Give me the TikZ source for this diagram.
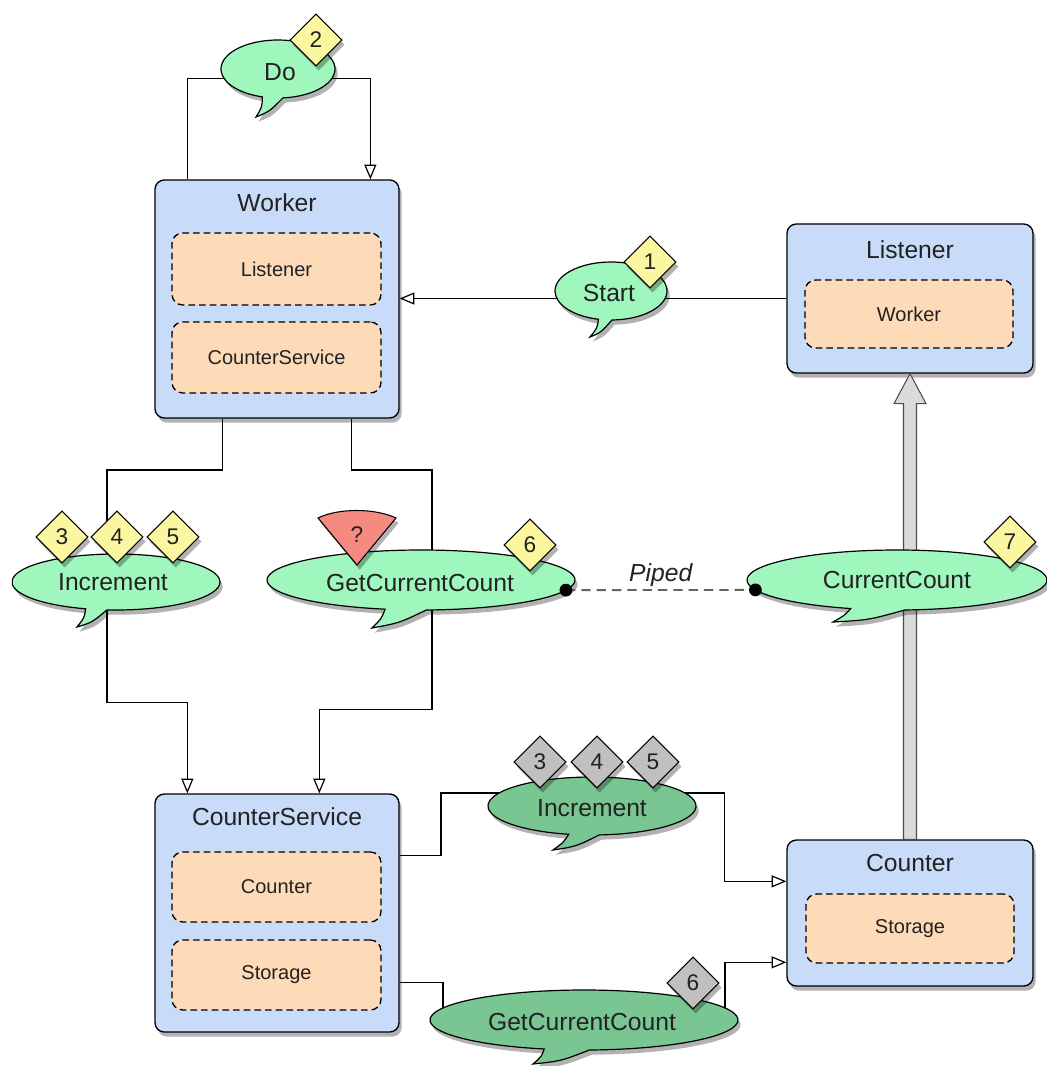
\documentclass[tikz,border=0pt]{standalone}
\usepackage{fontspec}
\setmainfont{Liberation Sans}
\usetikzlibrary{shadows,shapes.geometric,fit,calc,arrows.meta}
\definecolor{boxblue}{RGB}{200,220,250}
\definecolor{innerorg}{RGB}{253,218,184}
\definecolor{bubgreen}{RGB}{160,247,190}
\definecolor{bubdark}{RGB}{122,198,146}
\definecolor{diayel}{RGB}{250,247,160}
\definecolor{diagray}{RGB}{192,192,192}
\definecolor{qred}{RGB}{245,138,128}
\definecolor{txt}{RGB}{34,34,34}
\definecolor{pipegray}{RGB}{100,100,100}
\newcommand\ttlfnt{\fontsize{18.5}{20}\selectfont}
\newcommand\innfnt{\fontsize{15}{17}\selectfont}
\newcommand\numfnt{\fontsize{17}{19}\selectfont}
% cx cy rx ry angle-right-base angle-left-base tipx tipy fill
\newcommand\speechpath[9]{%
  \path[bubshape,fill=#9] (#1,#2) ++(#5:#3 and #4)
    arc[start angle=#5, end angle=#6-360, x radius=#3, y radius=#4]
    .. controls ($($(#1,#2)+(#6:#3 and #4)$)!0.5!(#7,#8)+(3,0)$) .. (#7,#8)
    .. controls ($(#7,#8)!0.5!($(#1,#2)+(#5:#3 and #4)$)+(0,4)$) .. ($(#1,#2)+(#5:#3 and #4)$) -- cycle;}
\tikzset{
  shd/.style={drop shadow={shadow xshift=2pt, shadow yshift=-3.5pt, opacity=0.3, fill=black}},
  box/.style={draw=black, line width=1pt, rounded corners=7pt, fill=boxblue, inner sep=0pt, shd},
  ttl/.style={font=\ttlfnt, text=txt, inner sep=0pt},
  innerbox/.style={draw=black, dash pattern=on 5pt off 3pt, line width=1pt, rounded corners=8pt, fill=innerorg, inner sep=0pt},
  inntxt/.style={font=\innfnt, text=txt, inner sep=0pt},
  bubshape/.style={draw=black, line width=0.9pt, shd},
  bubtext/.style={ellipse, inner sep=0pt, outer sep=0pt, font=\ttlfnt, text=txt},
  dia/.style={diamond, draw=black, line width=0.8pt, fill=diayel, inner sep=0pt, minimum width=39pt, minimum height=39pt, font=\numfnt, text=txt, shd},
  gdia/.style={dia, fill=diagray},
  conn/.style={draw=black, line width=0.9pt},
  arr/.style={-{Triangle[length=11pt,width=9pt,fill=white]}},
  pipe/.style={draw=pipegray, line width=1.4pt, dash pattern=on 7pt off 4.5pt},
}
\begin{document}
\begin{tikzpicture}[x=0.75pt,y=-0.75pt]
\useasboundingbox[fill=white] (0,0) rectangle (1046,1066);

% ---------- boxes ----------
\node[box, fit={(155,180)(399,418)}] (worker) {};
\node[ttl] (workerT) at (277,203) {Worker};
\node[innerbox, fit={(172,233)(381,305)}] (wL) {};
\node[inntxt] (wLT) at (wL.center) {Listener};
\node[innerbox, fit={(172,322)(381,393)}] (wC) {};
\node[inntxt] (wCT) at (wC.center) {CounterService};

\node[box, fit={(787,224)(1033,373)}] (listener) {};
\node[ttl] (listenerT) at (910,250) {Listener};
\node[innerbox, fit={(805,280)(1013,348)}] (lW) {};
\node[inntxt] (lWT) at (lW.center) {Worker};

\node[box, fit={(155,794)(399,1032)}] (cs) {};
\node[ttl] (csT) at (277,817) {CounterService};
\node[innerbox, fit={(172,852)(381,922)}] (csC) {};
\node[inntxt] (csCT) at (csC.center) {Counter};
\node[innerbox, fit={(172,940)(381,1010)}] (csS) {};
\node[inntxt] (csST) at (csS.center) {Storage};

\node[box, fit={(787,840)(1033,986)}] (counter) {};
\node[ttl] (counterT) at (910,863) {Counter};
\node[innerbox, fit={(806,894)(1014,963)}] (cS) {};
\node[inntxt] (cST) at (cS.center) {Storage};

% ---------- bubble anchor nodes ----------
\path node[bubtext, minimum width=85.5pt, minimum height=43.5pt] (do) at (278,69) {}
      node[bubtext, minimum width=84pt, minimum height=43.5pt] (start) at (611,291) {}
      node[bubtext, minimum width=156pt, minimum height=42pt] (inc1) at (116,582) {}
      node[bubtext, minimum width=231pt, minimum height=45pt] (gcc) at (421,580) {}
      node[bubtext, minimum width=225pt, minimum height=45pt] (cc) at (897,580) {}
      node[bubtext, minimum width=156pt, minimum height=43.5pt] (inc2) at (592,806) {}
      node[bubtext, minimum width=231pt, minimum height=45pt] (gcc2) at (584,1020) {};

% ---------- connectors ----------
\draw[conn] ($(worker.north west)+(33,0)$) |- (do.190);
\draw[conn,arr] (do.350) -| ($(worker.north west)+(216,0)$);
\draw[conn] (listener.west) -- (listener.west -| start.center);
\draw[conn,arr] (start.center |- listener.west) -- (worker.east |- listener.west);
\draw[conn] ($(worker.south west)+(68,0)$) |- ($(inc1.center)+(-9,-112)$) -- ($(inc1.center)+(-9,0)$);
\draw[conn,arr] ($(inc1.center)+(-9,0)$) |- ($(cs.north west)+(33,-91)$) -- ($(cs.north west)+(33,0)$);
\draw[conn] ($(worker.south west)+(197,0)$) |- ($(gcc.center)+(11,-110)$) -- ($(gcc.center)+(11,0)$);
\draw[conn,arr] ($(gcc.center)+(11,0)$) |- ($(cs.north west)+(165,-84)$) -- ($(cs.north west)+(165,0)$);
\draw[conn] ($(cs.north east)+(0,62)$) -| ($(inc2.center)+(-151,-13)$) -- ($(inc2.center)+(0,-13)$);
\draw[conn,arr] ($(inc2.center)+(0,-13)$) -| ($(counter.north west)+(-62,42)$) -- ($(counter.north west)+(0,42)$);
\draw[conn] ($(cs.north east)+(0,189)$) -| ($(gcc2.center)+(-141,0)$);
\draw[conn,arr] ($(gcc2.center)+(141,0)$) |- ($(counter.north west)+(0,123)$);

% ---------- hollow arrow Counter -> Listener ----------
\path[draw=black!70, line width=0.8pt, fill=black!14]
  ($(counter.north)+(-6.5,0)$) -- ($(listener.south)+(-6.5,30)$) -- ($(listener.south)+(-16,30)$)
  -- (listener.south) -- ($(listener.south)+(16,30)$) -- ($(listener.south)+(6.5,30)$)
  -- ($(counter.north)+(6.5,0)$) -- cycle;

% ---------- speech bubbles ----------
\speechpath{278}{69}{57}{29}{85}{106}{256}{117}{bubgreen}
\speechpath{611}{291}{56}{29}{89}{103}{590}{337}{bubgreen}
\speechpath{116}{582}{104}{28}{95}{107}{77}{627}{bubgreen}
\speechpath{421}{580}{154}{30}{88}{103.5}{372}{628}{bubgreen}
\speechpath{897}{580}{150}{30}{87}{108}{833}{622}{bubgreen}
\speechpath{592}{806}{104}{29}{86}{103}{553}{850}{bubdark}
\speechpath{584}{1020}{154}{30}{88}{105}{533}{1064}{bubdark}

\node[ttl] (doT) at (280,72) {Do};
\node[ttl] (startT) at (609,293) {Start};
\node[ttl] (inc1T) at (113,582) {Increment};
\node[ttl] (gccT) at (420,583) {GetCurrentCount};
\node[ttl] (ccT) at (897,580) {CurrentCount};
\node[ttl] (inc2T) at (592,808) {Increment};
\node[ttl] (gcc2T) at (582,1022) {GetCurrentCount};

% ---------- piped link ----------
\draw[pipe] (gcc.-4) -- node[above=2pt, font=\ttlfnt\itshape, text=txt, inner sep=0pt] (piped) {Piped} (cc.184);
\fill[black] (gcc.-4) circle[radius=4.8pt];
\fill[black] (cc.184) circle[radius=4.8pt];

% ---------- question marker ----------
\path[draw=black, line width=0.8pt, fill=qred, shd] (318,518) .. controls (338,508) and (375,508) .. (396,518) -- (357,565) -- cycle;
\node[font=\numfnt, text=txt, inner sep=0pt] (qm) at (357,535) {?};

% ---------- diamonds ----------
\node[dia] (d2) at (316,40) {2};
\node[dia] (d1) at (650,262) {1};
\node[dia] (d3a) at (62,537) {3};
\node[dia] (d4a) at (117,537) {4};
\node[dia] (d5a) at (173,537) {5};
\node[dia] (d6a) at (530,545) {6};
\node[dia] (d7) at (1010,542) {7};
\node[gdia] (d3b) at (540,762) {3};
\node[gdia] (d4b) at (597,762) {4};
\node[gdia] (d5b) at (653,762) {5};
\node[gdia] (d6b) at (693,983) {6};
\end{tikzpicture}
\end{document}
